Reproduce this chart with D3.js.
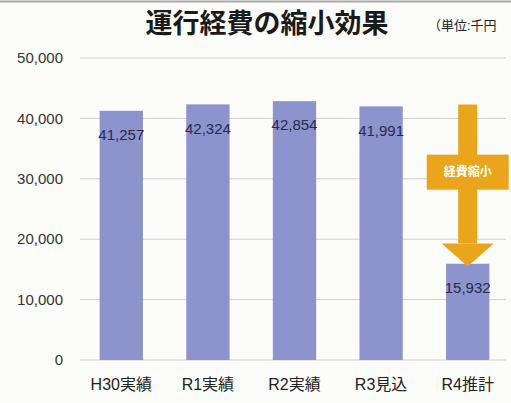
<!DOCTYPE html>
<meta charset="utf-8">
<script src="https://d3js.org/d3.v7.min.js"></script>
<style>
body { margin: 0; background: #fff; }
svg { font-family: "Liberation Sans", "Noto Sans CJK JP", sans-serif; }
.grid line { stroke: #cfcfcf; }
.tick-label { fill: #333; font-size: 15px; }
</style>
<body>
<div id="canvas"></div>
<script>

var categories = ["H30実績", "R1実績", "R2実績", "R3見込", "R4推計"];
var values = [41257, 42324, 42854, 41991, 15932];
var yTicks = [0, 10000, 20000, 30000, 40000, 50000];

var width = 511, height = 403;
var margin = {top: 58, right: 0, bottom: 43, left: 78};

var svg = d3.select("#canvas").append("svg")
	.attr("width", width)
	.attr("height", height);

svg.append("rect")
	.attr("width", width).attr("height", height)
	.attr("fill", "#fcfcfa");
svg.append("line")
	.attr("x1", 0).attr("x2", width).attr("y1", 1.5).attr("y2", 1.5)
	.attr("stroke", "#aaa").attr("stroke-width", 2);

var x = d3.scaleBand()
	.domain(categories)
	.range([margin.left, width - margin.right])
	.paddingInner(0.5)
	.paddingOuter(0.25);

var y = d3.scaleLinear()
	.domain([0, 50000])
	.range([height - margin.bottom, margin.top]);

// grid + y labels
var grid = svg.append("g").attr("class", "grid");
grid.selectAll("line").data(yTicks).join("line")
	.attr("x1", 80).attr("x2", 506)
	.attr("y1", d => y(d)).attr("y2", d => y(d));

svg.selectAll(".tick-label").data(yTicks).join("text")
	.attr("class", "tick-label")
	.attr("x", 63)
	.attr("y", d => y(d))
	.attr("dy", ".35em")
	.attr("text-anchor", "end")
	.text(d => d3.format(",")(d));

// bars
svg.selectAll(".bar").data(values).join("rect")
	.attr("class", "bar")
	.attr("x", (d, i) => x(categories[i]))
	.attr("width", x.bandwidth())
	.attr("y", d => y(d))
	.attr("height", d => y(0) - y(d))
	.attr("fill", "#8d93cc");

svg.selectAll(".val").data(values).join("text")
	.attr("class", "val")
	.attr("x", (d, i) => x(categories[i]) + x.bandwidth() / 2)
	.attr("y", d => y(d) + 24)
	.attr("dy", ".35em")
	.attr("text-anchor", "middle")
	.attr("fill", "#262b50")
	.attr("font-size", "15px")
	.text(d => d3.format(",")(d));

// x labels
svg.selectAll(".cat").data(categories).join("text")
	.attr("class", "cat")
	.attr("x", d => x(d) + x.bandwidth() / 2)
	.attr("y", 384)
	.attr("dy", ".35em")
	.attr("text-anchor", "middle")
	.attr("fill", "#222")
	.attr("font-size", "16px")
	.text(d => d);

// arrow 経費縮小
var cx = x("R4推計") + x.bandwidth() / 2;
var orange = "#eba51c";
var shaftW = 19;
var yTop = y(42300), yHeadBase = y(19300), yTip = y(15500);
svg.append("rect")
	.attr("x", cx - shaftW / 2).attr("width", shaftW)
	.attr("y", yTop).attr("height", yHeadBase - yTop)
	.attr("fill", orange);
svg.append("rect")
	.attr("x", cx - 41).attr("width", 82)
	.attr("y", y(34000)).attr("height", y(28200) - y(34000))
	.attr("fill", orange);
svg.append("polygon")
	.attr("points", [[cx - 26, yHeadBase], [cx + 26, yHeadBase], [cx, yTip]].join(" "))
	.attr("fill", orange);
svg.append("text")
	.attr("x", cx).attr("y", y(31100))
	.attr("dy", ".35em")
	.attr("text-anchor", "middle")
	.attr("fill", "#fff")
	.attr("font-size", "12px")
	.attr("font-weight", "bold")
	.text("経費縮小");

// title
svg.append("text")
	.attr("x", 267).attr("y", 24)
	.attr("dy", ".35em")
	.attr("text-anchor", "middle")
	.attr("font-family", "Noto Sans CJK JP")
	.attr("font-size", "27px")
	.attr("font-weight", "bold")
	.attr("fill", "#1a1a1a")
	.text("運行経費の縮小効果");
svg.append("text")
	.attr("x", 428).attr("y", 25)
	.attr("dy", ".35em")
	.attr("font-size", "13px")
	.attr("fill", "#222")
	.text("（単位:千円");

</script>
</body>
